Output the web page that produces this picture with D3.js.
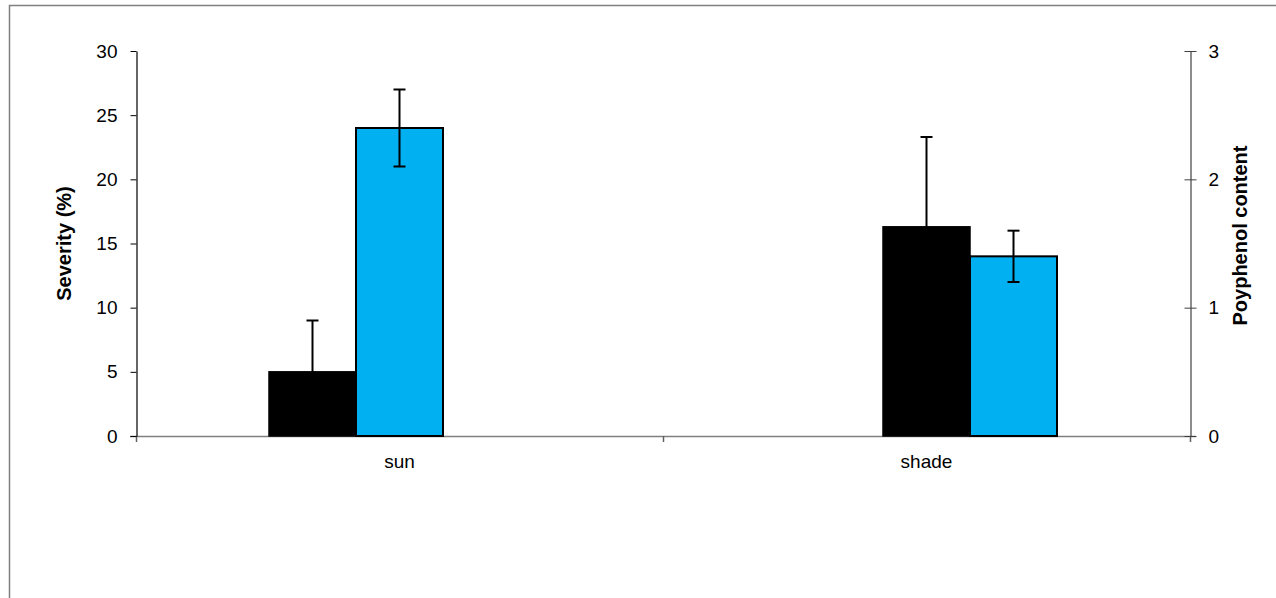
<!DOCTYPE html>
<html>
<head>
<meta charset="utf-8">
<script src="https://cdn.jsdelivr.net/npm/d3@7/dist/d3.min.js"></script>
<style>
  html, body { margin: 0; padding: 0; background: #fff; }
  svg { display: block; }
  text { font-family: "Liberation Sans", Arial, sans-serif; }
</style>
</head>
<body>
<svg id="chart" width="1276" height="598"></svg>
<script>
// ---- data ----
const categories = ["sun", "shade"];
const severity = [5, 16.3];          // Severity (%) – primary axis
const severityErr = [4, 7];          // upper error only
const polyphenol = [2.4, 1.4];       // Polyphenol content – secondary axis
const polyphenolErr = [0.3, 0.2];    // +/- error
const leftTicks = [0, 5, 10, 15, 20, 25, 30];
const rightTicks = [0, 1, 2, 3];
const leftTitle = "Severity (%)";
const rightTitle = "Poyphenol content";

// ---- layout ----
const W = 1276, H = 598;
const plot = { left: 136, right: 1190, top: 51, bottom: 436 };
const barW = 87;
const labelSize = 19, titleSize = 20;
// slot of each series inside each category cluster (-1 left, 0 centre, +1 right)
const slotSeverity = [-1, 0];
const slotPoly = [0, 1];

const svg = d3.select("#chart");

// outer border
svg.append("rect")
  .attr("x", 9.5).attr("y", 5.5)
  .attr("width", W + 20).attr("height", H + 20)
  .attr("fill", "none").attr("stroke", "#808080").attr("stroke-width", 1.5);

const x = d3.scaleBand().domain(categories).range([plot.left, plot.right]).padding(0);
const slot = d3.scaleBand().domain([-1, 0, 1]).range([-1.5 * barW, 1.5 * barW]).padding(0);
const yL = d3.scaleLinear().domain([0, 30]).range([plot.bottom, plot.top]);
const yR = d3.scaleLinear().domain([0, 3]).range([plot.bottom, plot.top]);

const cx = i => x(categories[i]) + x.bandwidth() / 2;

// x axis line
svg.append("line")
  .attr("x1", plot.left - 6).attr("x2", plot.right + 6)
  .attr("y1", plot.bottom + 0.5).attr("y2", plot.bottom + 0.5)
  .attr("stroke", "#808080").attr("stroke-width", 1.5);

// x category boundary ticks
const bounds = [plot.left, ...categories.map(c => x(c) + x.bandwidth())];
svg.selectAll(".xtick").data(bounds).enter().append("line")
  .attr("x1", d => Math.round(d) + 0.5).attr("x2", d => Math.round(d) + 0.5)
  .attr("y1", plot.bottom).attr("y2", plot.bottom + 6)
  .attr("stroke", "#606060").attr("stroke-width", 1.5);

// x labels
svg.selectAll(".xlab").data(categories).enter().append("text")
  .attr("x", (d, i) => cx(i)).attr("y", plot.bottom + 32)
  .attr("text-anchor", "middle").attr("font-size", labelSize).attr("fill", "#000")
  .text(d => d);

// left axis
const gL = svg.append("g").attr("transform", `translate(${plot.left + 0.5},0)`)
  .call(d3.axisLeft(yL).tickValues(leftTicks).tickSize(6).tickPadding(13).tickSizeOuter(0));
gL.select(".domain").attr("stroke", "#000").attr("stroke-width", 1.2);
gL.selectAll(".tick line").attr("stroke", "#000");
gL.selectAll(".tick text").attr("font-size", labelSize).attr("fill", "#000")
  .attr("font-family", "Liberation Sans, Arial, sans-serif");

// right axis (ticks cross the axis)
const gR = svg.append("g").attr("transform", `translate(${plot.right + 0.5},0)`)
  .call(d3.axisRight(yR).tickValues(rightTicks).tickFormat(d3.format("d"))
    .tickSize(6).tickPadding(12).tickSizeOuter(0));
gR.select(".domain").attr("stroke", "#404040").attr("stroke-width", 1.2);
gR.selectAll(".tick line").attr("x1", -6).attr("stroke", "#404040");
gR.selectAll(".tick text").attr("font-size", labelSize).attr("fill", "#000")
  .attr("font-family", "Liberation Sans, Arial, sans-serif");

// axis titles
svg.append("text")
  .attr("transform", `translate(71,${(plot.top + plot.bottom) / 2}) rotate(-90)`)
  .attr("text-anchor", "middle").attr("font-size", titleSize).attr("font-weight", "bold")
  .text(leftTitle);
svg.append("text")
  .attr("transform", `translate(1247,${(plot.top + plot.bottom) / 2 - 8}) rotate(-90)`)
  .attr("text-anchor", "middle").attr("font-size", titleSize).attr("font-weight", "bold")
  .text(rightTitle);

// bars
const sevData = categories.map((c, i) => ({ i, v: severity[i], e: severityErr[i], s: slotSeverity[i] }));
const polyData = categories.map((c, i) => ({ i, v: polyphenol[i], e: polyphenolErr[i], s: slotPoly[i] }));
const bx = d => cx(d.i) + slot(d.s);

svg.selectAll(".bs").data(sevData).enter().append("rect")
  .attr("x", bx).attr("width", slot.bandwidth())
  .attr("y", d => yL(d.v)).attr("height", d => yL(0) - yL(d.v))
  .attr("fill", "#000").attr("stroke", "#000").attr("stroke-width", 1.5);

svg.selectAll(".bp").data(polyData).enter().append("rect")
  .attr("x", bx).attr("width", slot.bandwidth())
  .attr("y", d => yR(d.v)).attr("height", d => yR(0) - yR(d.v))
  .attr("fill", "#00B0F0").attr("stroke", "#000").attr("stroke-width", 2);

// error bars
const cap = 6;
const mid = d => bx(d) + slot.bandwidth() / 2;
// severity: upper only
const eS = svg.selectAll(".es").data(sevData).enter().append("g");
eS.append("line").attr("x1", mid).attr("x2", mid)
  .attr("y1", d => yL(d.v)).attr("y2", d => yL(d.v + d.e))
  .attr("stroke", "#000").attr("stroke-width", 2);
eS.append("line").attr("x1", d => mid(d) - cap).attr("x2", d => mid(d) + cap)
  .attr("y1", d => yL(d.v + d.e)).attr("y2", d => yL(d.v + d.e))
  .attr("stroke", "#000").attr("stroke-width", 2);
// polyphenol: +/-
const eP = svg.selectAll(".ep").data(polyData).enter().append("g");
eP.append("line").attr("x1", mid).attr("x2", mid)
  .attr("y1", d => yR(d.v - d.e)).attr("y2", d => yR(d.v + d.e))
  .attr("stroke", "#000").attr("stroke-width", 2);
[1, -1].forEach(sg => {
  eP.append("line").attr("x1", d => mid(d) - cap).attr("x2", d => mid(d) + cap)
    .attr("y1", d => yR(d.v + sg * d.e)).attr("y2", d => yR(d.v + sg * d.e))
    .attr("stroke", "#000").attr("stroke-width", 2);
});
</script>
</body>
</html>
